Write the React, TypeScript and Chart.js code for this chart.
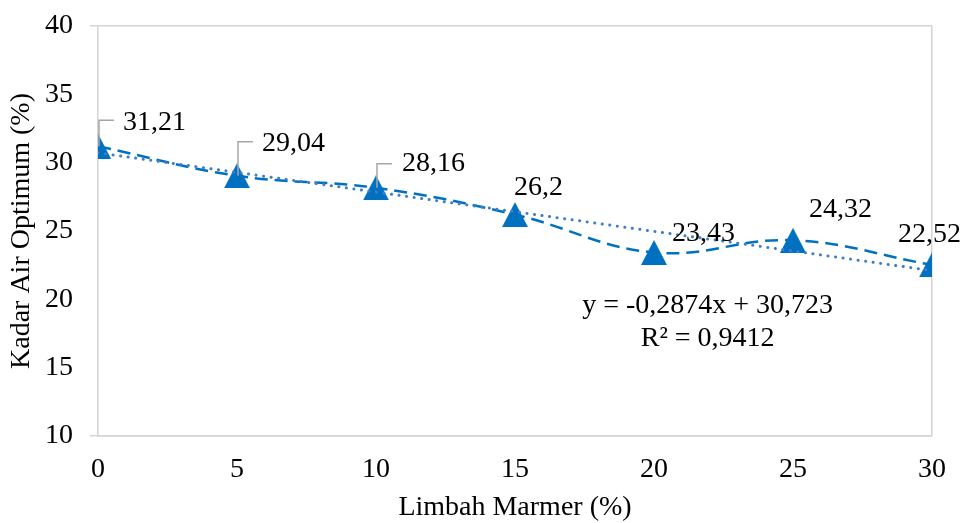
import React, { useEffect, useRef } from "react";
import { Chart, registerables } from "chart.js";

Chart.register(...registerables);

const limbahMarmer = [0, 5, 10, 15, 20, 25, 30];
const kadarAir = [31.21, 29.04, 28.16, 26.2, 23.43, 24.32, 22.52];
const dataLabels = ["31,21", "29,04", "28,16", "26,2", "23,43", "24,32", "22,52"];
const trendX = [0, 30];
const trendY = [30.723, 22.101];
const yTicks = [10, 15, 20, 25, 30, 35, 40];
const equationLines = ["y = -0,2874x + 30,723", "R² = 0,9412"];

// label offsets (style only): [dx, dy] from the point, and leader-line height (null = none)
const labelOffsets: [number, number, number | null][] = [
  [25, -23, -26],
  [25, -32, -34],
  [26, -24, -24],
  [-1, -27, null],
  [18, -19, null],
  [16, -31, null],
  [-34, -30, null],
];

const FONT = "'Liberation Serif', 'Times New Roman', serif";
const FS = 28;
const BLUE = "#0070C0";
const GRID = "#d4d4d4";

function makeTriangle(): HTMLCanvasElement {
  const c = document.createElement("canvas");
  c.width = 26;
  c.height = 25;
  const ctx = c.getContext("2d")!;
  ctx.fillStyle = BLUE;
  ctx.beginPath();
  ctx.moveTo(0, 25);
  ctx.lineTo(13, 0);
  ctx.lineTo(26, 25);
  ctx.closePath();
  ctx.fill();
  return c;
}

const labelPlugin = {
  id: "labelPlugin",
  afterDatasetsDraw(chart: any) {
    const ctx = chart.ctx;
    const meta = chart.getDatasetMeta(1);
    ctx.save();
    ctx.font = `${FS}px ${FONT}`;
    ctx.fillStyle = "#000";
    ctx.textAlign = "left";
    ctx.textBaseline = "middle";
    meta.data.forEach((pt: any, i: number) => {
      const [dx, dy, leader] = labelOffsets[i];
      if (leader !== null) {
        ctx.strokeStyle = "#a6a6a6";
        ctx.lineWidth = 1.5;
        ctx.beginPath();
        ctx.moveTo(pt.x + 1, pt.y);
        ctx.lineTo(pt.x + 1, pt.y + leader);
        ctx.lineTo(pt.x + 16, pt.y + leader);
        ctx.stroke();
      }
      ctx.fillText(dataLabels[i], pt.x + dx, pt.y + dy);
    });
    const area = chart.chartArea;
    ctx.textAlign = "center";
    const cx = area.left + (area.right - area.left) * 0.731;
    ctx.fillText(equationLines[0], cx, area.top + 280);
    ctx.fillText(equationLines[1], cx, area.top + 313);
    ctx.restore();
  },
};

export default function App() {
  const ref = useRef<HTMLCanvasElement>(null);
  useEffect(() => {
    document.body.style.margin = "0";
    const tri = makeTriangle();
    const chart = new Chart(ref.current!, {
      type: "line",
      data: {
        datasets: [
          {
            label: "Trend",
            data: trendX.map((x, i) => ({ x, y: trendY[i] })),
            borderColor: "#3f7fc6",
            borderWidth: 3,
            borderDash: [0.1, 7.5],
            borderCapStyle: "round",
            pointRadius: 0,
            fill: false,
            order: 0,
          },
          {
            label: "Kadar Air Optimum",
            data: limbahMarmer.map((x, i) => ({ x, y: kadarAir[i] })),
            borderColor: BLUE,
            borderWidth: 2.5,
            borderDash: [13, 7],
            tension: 0.4,
            pointStyle: tri as any,
            pointRadius: 13,
            pointBackgroundColor: BLUE,
            pointBorderColor: BLUE,
            fill: false,
            order: 1,
          },
        ],
      },
      options: {
        animation: false,
        responsive: true,
        maintainAspectRatio: false,
        layout: { padding: { top: 26, right: 31, left: 0, bottom: 0 } },
        plugins: { legend: { display: false }, tooltip: { enabled: false } },
        scales: {
          x: {
            type: "linear",
            min: 0,
            max: 30,
            ticks: { stepSize: 5, color: "#000", font: { family: FONT, size: FS }, padding: 17, maxRotation: 0 },
            grid: {
              drawTicks: false,
              lineWidth: 1.5,
              color: (c: any) => (c.tick && c.tick.value === 30 ? GRID : "rgba(0,0,0,0)"),
            },
            border: { color: GRID, width: 1.5 },
            title: {
              display: true,
              text: "Limbah Marmer (%)",
              color: "#000",
              font: { family: FONT, size: FS, lineHeight: 1 },
              padding: { top: 0, bottom: 1 },
            },
            afterFit: (s: any) => {
              s.height = 87;
              s.paddingLeft = 0;
              s.paddingRight = 0;
            },
          },
          y: {
            type: "linear",
            min: 10,
            max: 40,
            afterBuildTicks: (s: any) => {
              s.ticks = yTicks.map((v) => ({ value: v }));
            },
            ticks: { color: "#000", font: { family: FONT, size: FS }, padding: 17 },
            grid: {
              drawTicks: true,
              tickLength: 8,
              lineWidth: 1.5,
              color: (c: any) =>
                c.tick && (c.tick.value === 40 || c.tick.value === 10) ? GRID : "rgba(0,0,0,0)",
            },
            border: { color: GRID, width: 1.5 },
            title: {
              display: true,
              text: "Kadar Air Optimum (%)",
              color: "#000",
              font: { family: FONT, size: FS, lineHeight: 1 },
              padding: { top: 8, bottom: 0 },
            },
            afterFit: (s: any) => {
              s.width = 98;
              s.paddingTop = 0;
              s.paddingBottom = 0;
            },
          },
        },
      },
      plugins: [labelPlugin],
    });
    return () => chart.destroy();
  }, []);
  return (
    <div style={{ position: "fixed", left: 0, top: 0, width: 963, height: 523, background: "#fff" }}>
      <canvas ref={ref} />
    </div>
  );
}
